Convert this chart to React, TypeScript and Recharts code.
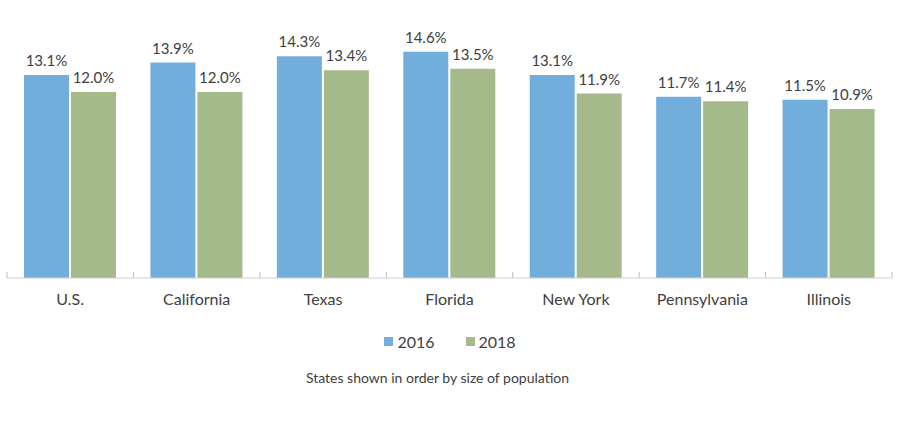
import React from 'react';
import { BarChart, Bar, XAxis, YAxis, LabelList, Legend } from 'recharts';

const states = ['U.S.', 'California', 'Texas', 'Florida', 'New York', 'Pennsylvania', 'Illinois'];
const rate2016 = [13.1, 13.9, 14.3, 14.6, 13.1, 11.7, 11.5];
const rate2018 = [12.0, 12.0, 13.4, 13.5, 11.9, 11.4, 10.9];

const BLUE = '#72AEDB';
const GREEN = '#A5BA8B';
const TEXT = '#404040';
const FONT = 'Lato, "Open Sans", sans-serif';

const data = states.map((state, i) => ({
  state,
  y2016: rate2016[i],
  y2018: rate2018[i],
}));

const fmt = (v: any) => `${Number(v).toFixed(1)}%`;

// category label plus short upward tick marks on the category boundaries
const StateTick = (props: any) => {
  const { x, y, payload, index } = props;
  const half = payload?.offset ?? 0;
  return (
    <g>
      <line x1={x - half} x2={x - half} y1={y} y2={y - 6} stroke="#BFBFBF" />
      {index === states.length - 1 && (
        <line x1={x + half} x2={x + half} y1={y} y2={y - 6} stroke="#BFBFBF" />
      )}
      <text x={x} y={y + 27} textAnchor="middle" fill={TEXT} fontSize={16} fontFamily={FONT}>
        {payload.value}
      </text>
    </g>
  );
};

const LegendContent = () => (
  <div style={{ fontFamily: FONT, color: TEXT, textAlign: 'center' }}>
    <div style={{ fontSize: 16, display: 'flex', justifyContent: 'center', alignItems: 'center' }}>
      <span style={{ display: 'inline-block', width: 9, height: 9, background: BLUE, marginRight: 4 }} />
      <span style={{ marginRight: 31 }}>2016</span>
      <span style={{ display: 'inline-block', width: 9, height: 9, background: GREEN, marginRight: 4 }} />
      <span>2018</span>
    </div>
    <div style={{ fontSize: 14, marginTop: 18, paddingRight: 25 }}>
      States shown in order by size of population
    </div>
  </div>
);

export default function App() {
  return (
    <div style={{ position: 'absolute', left: 0, top: 0, width: 900, height: 432, background: '#fff' }}>
      <BarChart
        width={900}
        height={432}
        data={data}
        margin={{ top: 30, right: 8, bottom: 124, left: 7 }}
        barCategoryGap={17}
        barGap={2}
      >
        <XAxis
          dataKey="state"
          height={30}
          tickSize={0}
          tickMargin={0}
          tickLine={false}
          interval={0}
          axisLine={{ stroke: '#D0D0D0' }}
          tick={<StateTick />}
        />
        <YAxis hide domain={[0, 16]} />
        <Legend
          layout="horizontal"
          verticalAlign="middle"
          align="center"
          wrapperStyle={{ top: 332, left: 0, width: 900 }}
          content={<LegendContent />}
        />
        <Bar dataKey="y2016" fill={BLUE} isAnimationActive={false}>
          <LabelList dataKey="y2016" position="top" offset={9} formatter={fmt} fill={TEXT} fontSize={15} fontFamily={FONT} />
        </Bar>
        <Bar dataKey="y2018" fill={GREEN} isAnimationActive={false}>
          <LabelList dataKey="y2018" position="top" offset={9} formatter={fmt} fill={TEXT} fontSize={15} fontFamily={FONT} />
        </Bar>
      </BarChart>
    </div>
  );
}
